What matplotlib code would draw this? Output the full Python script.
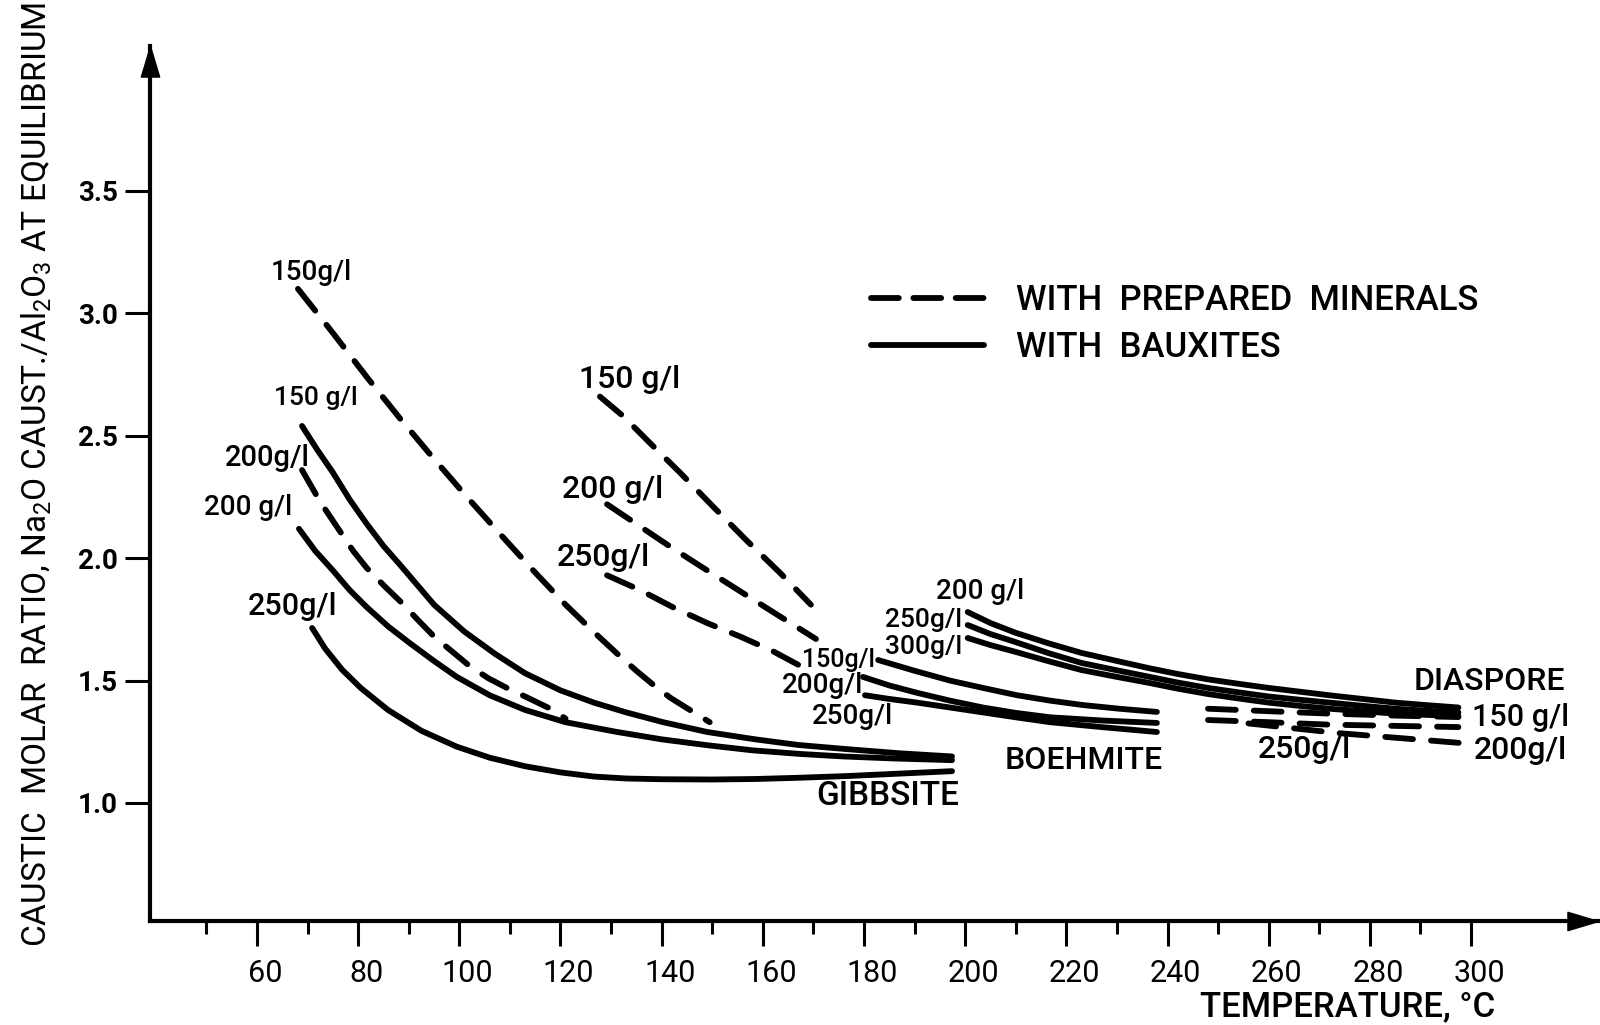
import matplotlib
matplotlib.use("Agg")
import matplotlib.pyplot as plt
import matplotlib.transforms as mtransforms
from matplotlib.lines import Line2D
from matplotlib import font_manager as fm

# ---------------------------------------------------------------------------
# Equilibrium caustic molar ratio vs. temperature
# (T in deg C, R = Na2O caust. / Al2O3 molar ratio)
# ---------------------------------------------------------------------------

# Gibbsite
gibbsite_150_prep_T = [68.1, 75, 81.7, 88.3, 94.8, 101.5, 108, 114.6, 121, 126.5, 131.2, 135, 138.5, 141.7, 144.8, 149.5]
gibbsite_150_prep_R = [3.10, 2.92, 2.74, 2.57, 2.41, 2.25, 2.10, 1.95, 1.81, 1.70, 1.61, 1.54, 1.48, 1.43, 1.39, 1.33]
gibbsite_200_prep_T = [68.9, 72.5, 76.4, 79, 81.7, 85, 88.5, 91.7, 95, 98.5, 102, 105.7, 109.4, 113.5, 117.5, 121]
gibbsite_200_prep_R = [2.36, 2.23, 2.11, 2.03, 1.96, 1.89, 1.82, 1.75, 1.68, 1.62, 1.56, 1.51, 1.47, 1.43, 1.39, 1.345]

gibbsite_150_baux_T = [68.9, 72, 75, 78.3, 81.7, 85, 88.4, 91.7, 95, 98, 101, 104, 107, 110, 113, 116.5,
                       120, 123.3, 126.6, 133, 140.3, 149, 158.5, 167, 176.6, 187, 197.4]
gibbsite_150_baux_R = [2.54, 2.44, 2.35, 2.24, 2.14, 2.05, 1.97, 1.89, 1.81, 1.755, 1.70, 1.655, 1.61, 1.57, 1.53, 1.495,
                       1.46, 1.435, 1.41, 1.37, 1.33, 1.29, 1.26, 1.237, 1.22, 1.203, 1.19]
gibbsite_200_baux_T = [68.3, 71.5, 75, 78.3, 81.7, 86, 90.4, 95, 99.5, 106, 113, 121, 131.2, 140, 149.4, 158,
                       167.6, 176, 185.7, 197.4]
gibbsite_200_baux_R = [2.12, 2.03, 1.95, 1.87, 1.80, 1.72, 1.65, 1.58, 1.515, 1.44, 1.38, 1.33, 1.29, 1.26, 1.235, 1.215,
                       1.20, 1.19, 1.182, 1.175]
gibbsite_250_baux_T = [70.9, 73.5, 76.8, 80.5, 85.9, 92.5, 99.5, 106, 113, 120, 126.6, 133, 140.3, 150, 158.5, 167,
                       176.6, 187, 197.4]
gibbsite_250_baux_R = [1.715, 1.63, 1.545, 1.47, 1.38, 1.295, 1.23, 1.185, 1.15, 1.125, 1.108, 1.10, 1.097, 1.096, 1.098, 1.103,
                       1.11, 1.12, 1.13]

# Boehmite
boehmite_150_prep_T = [127.8, 132.4, 137.7, 143.6, 150.2, 156.9, 163.4, 169.5]
boehmite_150_prep_R = [2.66, 2.58, 2.47, 2.35, 2.21, 2.07, 1.94, 1.81]
boehmite_200_prep_T = [129.2, 135.7, 142.2, 149, 155.5, 162, 170.5]
boehmite_200_prep_R = [2.22, 2.13, 2.04, 1.95, 1.865, 1.78, 1.67]
boehmite_250_prep_T = [129.2, 135.7, 142.2, 149, 155.5, 162, 167.4]
boehmite_250_prep_R = [1.93, 1.87, 1.80, 1.735, 1.68, 1.62, 1.56]

boehmite_150_baux_T = [182.8, 190, 197, 203.5, 210.3, 216.8, 223.3, 230.5, 237.9]
boehmite_150_baux_R = [1.584, 1.54, 1.50, 1.47, 1.44, 1.418, 1.40, 1.385, 1.372]
boehmite_200_baux_T = [179.8, 185, 190.5, 197, 203.5, 210, 216.8, 227, 237.9]
boehmite_200_baux_R = [1.515, 1.48, 1.45, 1.418, 1.39, 1.368, 1.35, 1.337, 1.327]
boehmite_250_baux_T = [180.2, 185, 190.5, 197, 203.5, 210, 216.8, 227, 237.9]
boehmite_250_baux_R = [1.44, 1.425, 1.41, 1.39, 1.37, 1.35, 1.33, 1.31, 1.29]

# Diaspore
diaspore_baux_T = [200.5, 205, 210, 216.5, 223, 230, 236.5, 242, 248, 254, 260, 266, 272, 278.5, 285, 291, 297.5]
diaspore_200_baux_R = [1.78, 1.735, 1.695, 1.652, 1.613, 1.58, 1.55, 1.527, 1.505, 1.487, 1.47, 1.455, 1.44, 1.425,
                       1.41, 1.40, 1.39]
diaspore_250_baux_R = [1.727, 1.69, 1.657, 1.612, 1.572, 1.542, 1.515, 1.492, 1.47, 1.452, 1.435, 1.422, 1.41, 1.397,
                       1.385, 1.377, 1.37]
diaspore_300_baux_R = [1.674, 1.645, 1.617, 1.579, 1.543, 1.515, 1.49, 1.467, 1.445, 1.427, 1.41, 1.397, 1.385, 1.375,
                       1.365, 1.36, 1.355]

diaspore_150_prep_T = [248, 260, 272, 285, 297.5]
diaspore_150_prep_R = [1.385, 1.375, 1.365, 1.357, 1.351]
diaspore_250_prep_T = [248, 260, 272, 285, 297.5]
diaspore_250_prep_R = [1.339, 1.33, 1.32, 1.315, 1.31]
diaspore_200_prep_T = [256, 265, 274, 283, 292, 298]
diaspore_200_prep_R = [1.325, 1.305, 1.285, 1.27, 1.255, 1.245]

# Axis ticks
x_major = list(range(60, 301, 20))
x_minor = list(range(50, 300, 10))
y_major = [1.0, 1.5, 2.0, 2.5, 3.0, 3.5]
y_tick_labels = ["1.0", "1.5", "2.0", "2.5", "3.0", "3.5"]

legend_labels = ["WITH  PREPARED  MINERALS", "WITH  BAUXITES"]

# ---------------------------------------------------------------------------
installed = {f.name for f in fm.fontManager.ttflist}
main_font = "Roboto" if "Roboto" in installed else "DejaVu Sans"
narrow_font = "Liberation Sans Narrow" if "Liberation Sans Narrow" in installed else main_font

plt.rcParams["font.family"] = [main_font, "DejaVu Sans"]
plt.rcParams["lines.scale_dashes"] = False
plt.rcParams["mathtext.fontset"] = "custom"
plt.rcParams["mathtext.rm"] = narrow_font
plt.rcParams["mathtext.it"] = narrow_font
plt.rcParams["mathtext.bf"] = narrow_font

LW = 4.2
DASH = (20, 13)

fig = plt.figure(figsize=(16, 10.25), dpi=100)
W, H = 1600, 1025
ax = fig.add_axes([150 / W, (H - 921) / H, (1598 - 150) / W, (921 - 46) / H])
ax.set_xlim(38.85, 325.1)
ax.set_ylim(0.518, 4.092)

solid = dict(color="k", lw=LW, solid_capstyle="round", solid_joinstyle="round")
dashed = dict(color="k", lw=LW, dashes=DASH, dash_capstyle="round", dash_joinstyle="round")

# prepared minerals (dashed)
for T, R in [
    (gibbsite_150_prep_T, gibbsite_150_prep_R),
    (gibbsite_200_prep_T, gibbsite_200_prep_R),
    (boehmite_150_prep_T, boehmite_150_prep_R),
    (boehmite_200_prep_T, boehmite_200_prep_R),
    (boehmite_250_prep_T, boehmite_250_prep_R),
    (diaspore_150_prep_T, diaspore_150_prep_R),
    (diaspore_250_prep_T, diaspore_250_prep_R),
    (diaspore_200_prep_T, diaspore_200_prep_R),
]:
    ax.plot(T, R, **dashed)

# bauxites (solid)
for T, R in [
    (gibbsite_150_baux_T, gibbsite_150_baux_R),
    (gibbsite_200_baux_T, gibbsite_200_baux_R),
    (gibbsite_250_baux_T, gibbsite_250_baux_R),
    (boehmite_150_baux_T, boehmite_150_baux_R),
    (boehmite_200_baux_T, boehmite_200_baux_R),
    (boehmite_250_baux_T, boehmite_250_baux_R),
    (diaspore_baux_T, diaspore_200_baux_R),
    (diaspore_baux_T, diaspore_250_baux_R),
    (diaspore_baux_T, diaspore_300_baux_R),
]:
    ax.plot(T, R, **solid)

# curve annotations: (text, T, R, size)
notes = [
    ("150g/l", 70.7, 3.165, 20),
    ("150 g/l", 71.7, 2.655, 19),
    ("200g/l", 62.0, 2.41, 21),
    ("200 g/l", 58.2, 2.209, 20),
    ("250g/l", 67.1, 1.801, 22),
    ("150 g/l", 133.7, 2.73, 23),
    ("200 g/l", 130.4, 2.28, 23),
    ("250g/l", 128.4, 2.001, 23),
    ("150g/l", 175.0, 1.585, 18),
    ("200g/l", 171.8, 1.48, 20),
    ("250g/l", 177.8, 1.355, 20),
    ("200 g/l", 202.9, 1.864, 20),
    ("250g/l", 191.8, 1.748, 19),
    ("300g/l", 191.8, 1.639, 19),
    ("GIBBSITE", 184.7, 1.03, 24),
    ("BOEHMITE", 223.4, 1.172, 23),
    ("DIASPORE", 303.7, 1.497, 23),
    ("150 g/l", 309.8, 1.351, 22),
    ("200g/l", 309.8, 1.214, 23),
    ("250g/l", 267.0, 1.218, 23),
]
for txt, t, r, size in notes:
    ax.text(t, r, txt, fontsize=size, fontweight="medium", ha="center", va="center", color="k")

# axes: left and bottom lines with arrow heads
for side in ("top", "right"):
    ax.spines[side].set_visible(False)
for side in ("left", "bottom"):
    ax.spines[side].set_linewidth(3.0)

up_head = [(0, 0), (-0.3, -1), (0.3, -1), (0, 0)]
right_head = [(0, 0), (-1, 0.3), (-1, -0.3), (0, 0)]
ax.plot([0], [1], marker=up_head, ms=44, color="k", transform=ax.transAxes, clip_on=False)
ax.plot([1], [0], marker=right_head, ms=44, color="k", transform=ax.transAxes, clip_on=False)

ax.set_xticks(x_major)
ax.set_xticks(x_minor, minor=True)
ax.set_yticks(y_major)
ax.set_yticklabels(y_tick_labels)
ax.tick_params(axis="x", which="major", direction="out", length=18, width=2.2, pad=9, labelsize=22)
ax.tick_params(axis="x", which="minor", direction="out", length=9, width=2.2)
ax.tick_params(axis="y", which="major", direction="out", length=18, width=2.2, pad=5, labelsize=20)
shift = mtransforms.ScaledTranslation(8 / 100, 0, fig.dpi_scale_trans)
for lbl in ax.get_xticklabels():
    lbl.set_transform(lbl.get_transform() + shift)
for lbl in ax.get_yticklabels():
    lbl.set_fontweight("bold")

ax.set_xlabel("TEMPERATURE, °C", fontsize=25, fontweight="medium")
ax.xaxis.set_label_coords(0.8273, -0.079)
ax.set_ylabel("CAUSTIC  MOLAR  RATIO, Na$_2$O CAUST./Al$_2$O$_3$ AT EQUILIBRIUM",
              fontsize=24, family=narrow_font)
ax.yaxis.set_label_coords(-0.0663, 0.511)

handles = [
    Line2D([], [], color="k", lw=LW, dashes=(20, 10.5), dash_capstyle="round"),
    Line2D([], [], color="k", lw=LW, solid_capstyle="round"),
]
ax.legend(handles, legend_labels, loc="upper left",
          bbox_to_anchor=(871 / W, 1 - 284 / H), bbox_transform=fig.transFigure,
          frameon=False, prop={"size": 25, "weight": "medium"},
          handlelength=81 / 25, handletextpad=0.95,
          labelspacing=0.41, borderpad=0, borderaxespad=0)

fig.savefig("out.png", dpi=100, facecolor="white")
